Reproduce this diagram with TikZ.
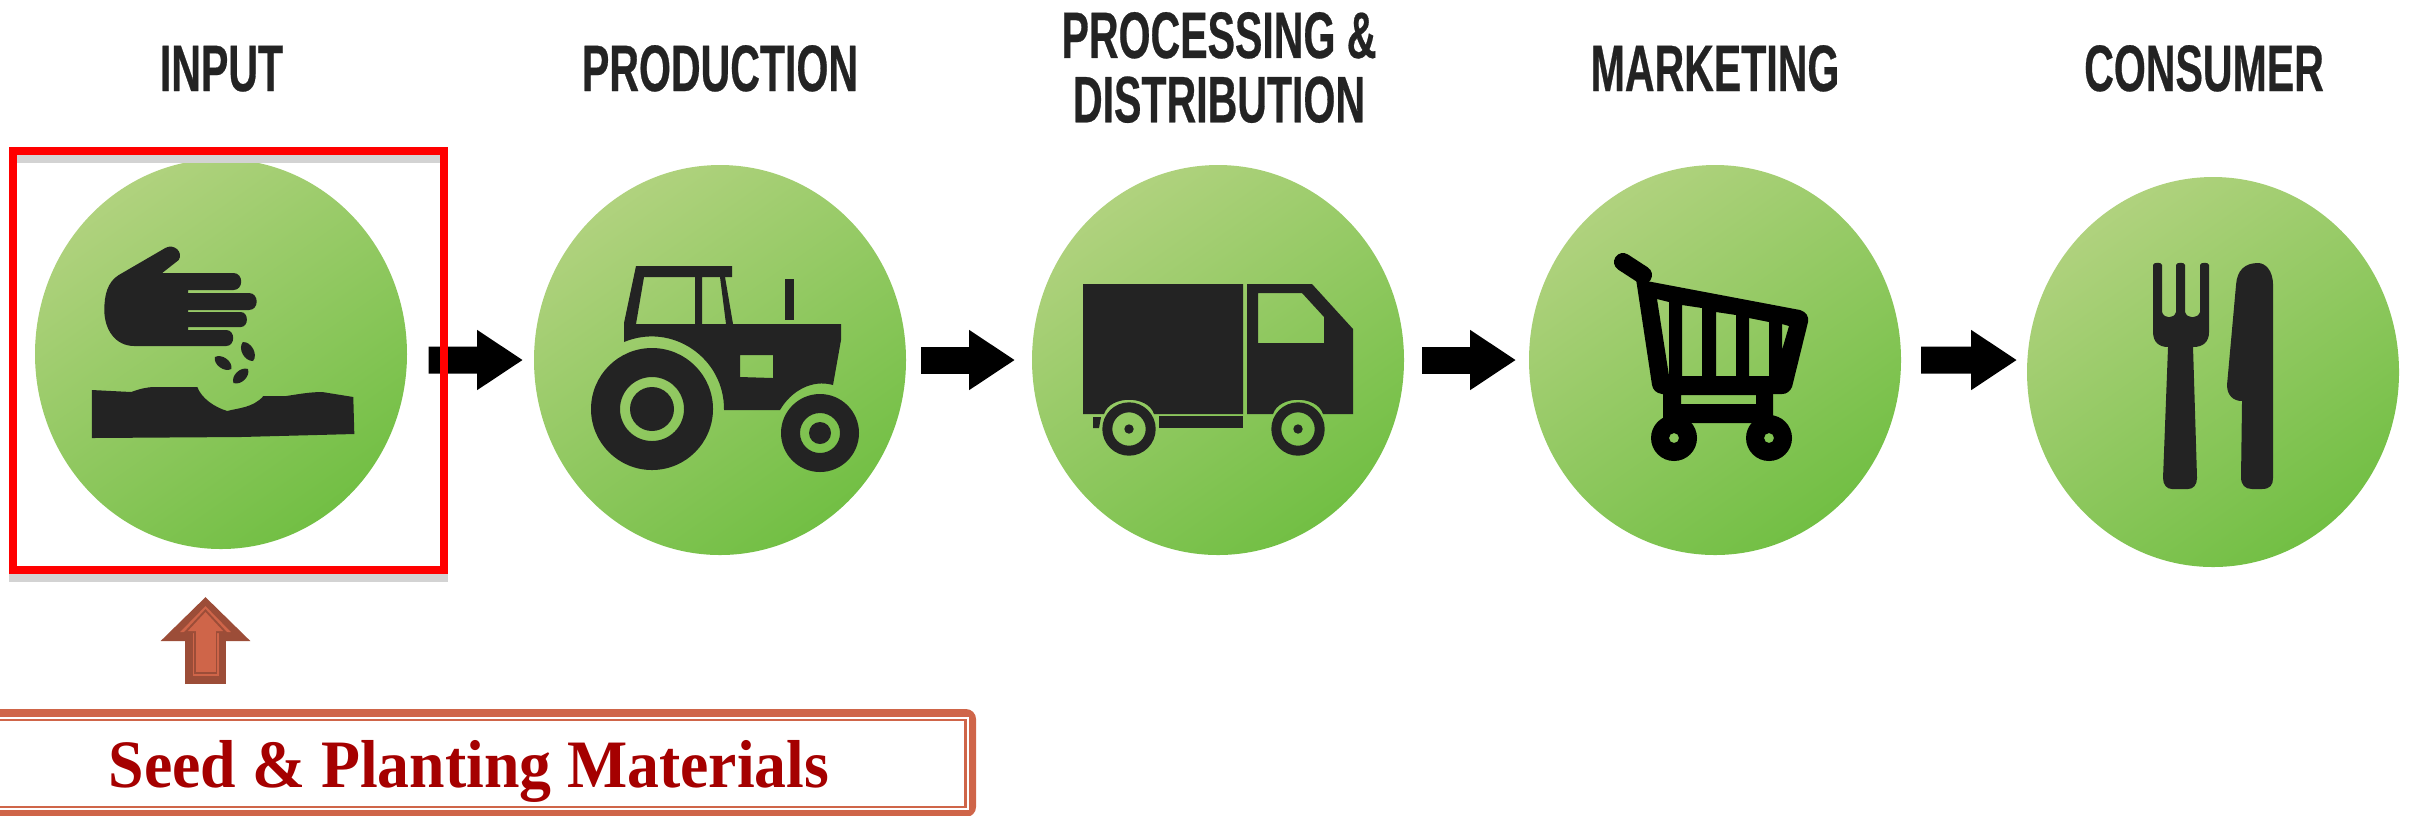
\documentclass[tikz,border=0pt]{standalone}
\usepackage{fontspec}
\usepackage{tikz}
\usetikzlibrary{shapes.geometric,arrows.meta,positioning}
\newfontfamily\titlefont[FakeStretch=0.625,FakeBold=0.4]{Liberation Sans Bold}
\newfontfamily\labelfont[FakeStretch=0.94]{Liberation Serif Bold}
\definecolor{leaflight}{HTML}{B0D27E}
\definecolor{leafmid}{HTML}{83C551}
\definecolor{leafdark}{HTML}{72BF44}
\definecolor{iconink}{HTML}{232323}
\definecolor{brickdark}{HTML}{9C4D38}
\definecolor{bricklight}{HTML}{CF6549}
\definecolor{shadowgray}{HTML}{D3D3D3}
\definecolor{labelred}{HTML}{A50000}

\begin{document}
\begin{tikzpicture}[
        x=0.1mm, y=-0.1mm,
        stage/.style={ellipse, inner sep=0pt, outer sep=0pt, minimum width=37.2mm, minimum height=39mm,
            top color=leaflight, middle color=leafmid, bottom color=leafdark, shading angle=35},
        title/.style={font=\titlefont\fontsize{18.7}{18.3}\selectfont, text=iconink, align=center, inner sep=0pt},
        icon/.style={fill=iconink, even odd rule},
        cart/.style={fill=black, even odd rule},
        flow/.style={line width=2.7mm, -{Triangle[length=4.6mm, width=5.7mm]}},
        focusbox/.style={draw=#1, line width=0.8mm, inner sep=0pt, outer sep=0pt, minimum width=43.1mm, minimum height=41.9mm}
    ]
    \useasboundingbox (0,0) rectangle (2418,815);

    \node[stage] (input) at (221,354) {};
    \node[stage] (production) at (720,360) {};
    \node[stage] (processing) at (1218,360) {};
    \node[stage] (marketing) at (1715,360) {};
    \node[stage] (consumer) at (2213,372) {};

    \node[title, anchor=base] (inputtitle) at (221.5,91) {INPUT};
    \node[title, anchor=base] (productiontitle) at (720,91) {PRODUCTION};
    \node[title] (processingtitle) at (1219,67.5) {PROCESSING \&\\DISTRIBUTION};
    \node[title, anchor=base] (marketingtitle) at (1715,91) {MARKETING};
    \node[title, anchor=base] (consumertitle) at (2204,91) {CONSUMER};

    \draw[flow, shorten <=2.15mm, shorten >=1.1mm] ([yshift=-0.6mm]input.east) -- (production.west);
    \draw[flow, shorten <=1.5mm, shorten >=1.7mm] (production.east) -- (processing.west);
    \draw[flow, shorten <=1.8mm, shorten >=1.3mm] (processing.east) -- (marketing.west);
    \draw[flow, shorten <=2mm, shorten >=1mm] (marketing.east) -- ([yshift=1.2mm]consumer.west);

    % hand, seeds and soil
    \begin{scope}[xscale=1.033]
    \fill[icon] (115,275) -- (160,248) .. controls (168,243) and (178,252) .. (173,260) -- (157,273)
        -- (226,273) .. controls (236,273) and (236,290) .. (226,290) -- (182,290) -- (182,293)
        -- (241,293) .. controls (251,293) and (251,310) .. (241,310) -- (182,310) -- (182,312)
        -- (233,312) .. controls (241,312) and (241,327) .. (233,327) -- (182,327) -- (182,330)
        -- (219,330) .. controls (228,330) and (228,346) .. (219,346) -- (130,346)
        .. controls (112,346) and (101,330) .. (101,310) .. controls (101,295) and (104,282) .. (115,275) -- cycle;
    \fill[icon] (235,342) to[bend left=65] (245,361) to[bend left=65] cycle;
    \fill[icon] (208,357) to[bend left=65] (224,369) to[bend left=65] cycle;
    \fill[icon] (240,369) to[bend left=65] (226,383) to[bend left=65] cycle;
    \fill[icon] (89,390) -- (127,392) .. controls (135,389) and (142,387) .. (150,387) -- (191,387)
        .. controls (195,398) and (207,407) .. (220,411) .. controls (230,408) and (245,408) .. (255,396)
        -- (277,396) .. controls (290,394) and (300,392) .. (312,392) -- (342,397) -- (343,434) -- (233,437) -- (89,438) -- cycle;
    \end{scope}

    % tractor
    \fill[icon] (624,342) -- (624,323) -- (636,266) -- (732,266) -- (732,277) -- (725,277) -- (733,324)
        -- (841,324) -- (841,340) -- (833,385) .. controls (812,379) and (791,391) .. (780,410)
        -- (724,410) .. controls (724.7,358) and (672,322) .. (624,342) -- cycle
        (644,277) -- (695,277) -- (695,324) -- (636,324) -- cycle
        (702,277) -- (720,277) -- (726,324) -- (702,324) -- cycle
        (740,355) -- (773,355) -- (773,378) -- (740,377) -- cycle;
    \fill[icon] (785,279) rectangle (794,320);
    \fill[icon] (652,409) circle (61) circle (32) circle (22);
    \fill[icon] (820,433) circle (39) circle (20) circle (11);

    % truck
    \fill[icon] (1083,284) -- (1243,284) -- (1243,414) -- (1154,414) .. controls (1148,395) and (1110,395) .. (1104,414) -- (1083,414) -- cycle;
    \fill[icon] (1247,284) -- (1312,284) -- (1353,329) -- (1353,414) -- (1323,414) .. controls (1317,395) and (1279,395) .. (1273,414) -- (1247,414) -- cycle
        (1258,293) -- (1302,293) -- (1324,317) -- (1324,343) -- (1258,343) -- cycle;
    \fill[icon] (1159,416) -- (1243,416) -- (1243,428) -- (1159,428) -- cycle;
    \fill[icon] (1093,417) -- (1101,417) -- (1099,428) -- (1093,428) -- cycle;
    \fill[icon] (1129,429) circle (26.7) circle (16.7) circle (4.7);
    \fill[icon] (1298,429) circle (26.7) circle (16.7) circle (4.7);

    % shopping cart
    \draw[line width=1.8mm, line cap=round] (1623,262) -- (1643,275);
    \fill[cart] (1636,279) -- (1800,310) .. controls (1806,312) and (1809,316) .. (1808,322) -- (1792,387)
        .. controls (1790,391) and (1787,394) .. (1782,394) -- (1662,394) .. controls (1656,393) and (1653,390) .. (1652,385) -- cycle
        (1657,299) -- (1669,302) -- (1669,376) -- cycle
        (1682,305) -- (1702,308) -- (1702,376) -- (1682,376) -- cycle
        (1716,312) -- (1736,315) -- (1736,376) -- (1716,376) -- cycle
        (1749,318) -- (1769,322) -- (1769,376) -- (1749,376) -- cycle
        (1782,324) -- (1789,326) -- (1782,350) -- cycle;
    \fill[cart] (1663,392) rectangle (1773,423) (1681,395) rectangle (1756,404);
    \fill[cart] (1674,438) circle (23) circle (5);
    \fill[cart] (1769,438) circle (23) circle (5);

    % fork and knife
    \fill[icon] (2153,265) .. controls (2153,262) and (2162,262) .. (2162,265) -- (2162,312) .. controls (2164,319) and (2174,319) .. (2176,312)
        -- (2176,265) .. controls (2176,262) and (2185,262) .. (2185,265) -- (2185,312) .. controls (2187,319) and (2198,319) .. (2200,312)
        -- (2200,265) .. controls (2200,262) and (2209,262) .. (2209,265) -- (2209,332) .. controls (2209,342) and (2203,347) .. (2193,347)
        -- (2197,478) .. controls (2197,485) and (2193,489) .. (2188,489) -- (2172,489) .. controls (2167,489) and (2163,485) .. (2163,478)
        -- (2168,347) .. controls (2159,347) and (2153,342) .. (2153,332) -- cycle;
    \fill[icon] (2273,285) .. controls (2273,270) and (2265,263) .. (2258,263) .. controls (2245,263) and (2237,270) .. (2236,285)
        -- (2227,385) .. controls (2227,395) and (2233,401) .. (2242,401) -- (2241,477) .. controls (2241,485) and (2245,489) .. (2252,489)
        -- (2262,489) .. controls (2270,489) and (2273,485) .. (2273,478) -- cycle;

    % selected stage
    \node[focusbox=shadowgray] (focusshadow) at (228.5,368.5) {};
    \node[focusbox=red] (focus) at (228.5,360.5) {};

    % seed box
    \node[fill=bricklight, rounded corners=1mm, inner sep=0pt, outer sep=0pt, minimum width=99.6mm, minimum height=10.8mm] (seedouter) at (478,763) {};
    \node[fill=white, inner sep=0pt, minimum width=98.9mm, minimum height=9.3mm] (seedwhite) at (474.5,763.5) {};
    \node[draw=bricklight, line width=0.25mm, inner sep=0pt, minimum width=98.5mm, minimum height=8.7mm] (seedline) at (472.75,763.5) {};
    \node[font=\labelfont\fontsize{19.3}{20}\selectfont, text=labelred, anchor=base, inner sep=0pt] (seedlabel) at (469,787) {Seed \& Planting Materials};

    \coordinate (uparrow) at (205.5,0);
    \foreach \wshaft/\wtip/\ltip/\sfoot/\stop/\col in {4.1/8.7/4.4/2.5/2.7/brickdark, 2.6/4.9/2.6/3.3/3.6/bricklight, 2.3/4.3/2.4/3.5/3.9/brickdark, 2.0/3.4/1.9/3.7/4.2/bricklight}
        \draw[draw=\col, line width=\wshaft mm, -{Triangle[length=\ltip mm, width=\wtip mm]}, shorten <=\sfoot mm, shorten >=\stop mm]
            (uparrow |- seedouter.north) -- (uparrow |- focus.south);
\end{tikzpicture}
\end{document}
